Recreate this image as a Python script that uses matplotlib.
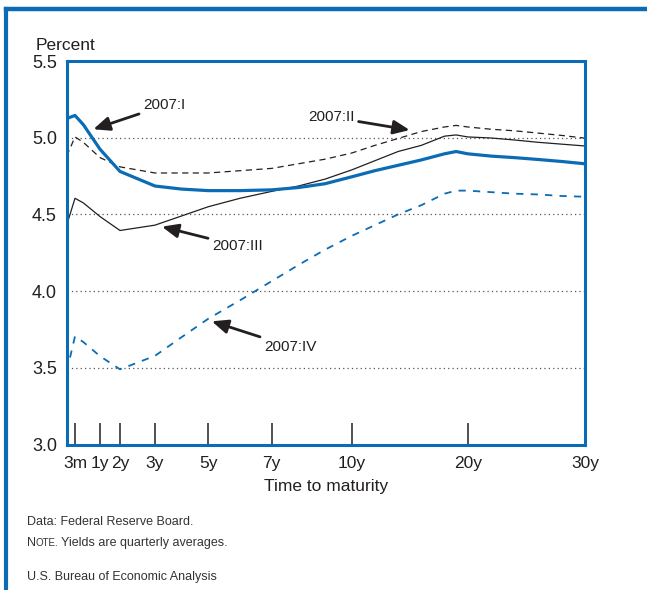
import numpy as np
import matplotlib
matplotlib.use("Agg")
import matplotlib.pyplot as plt
from matplotlib.lines import Line2D

plt.rcParams["font.family"] = ["Liberation Sans", "DejaVu Sans"]

# ── data (percent) ─────────────────────────────────────────
maturity = [1/12, 0.25, 0.5, 1, 2, 3, 4, 5, 6, 7, 8, 9, 10,
            12, 14, 16, 18, 19, 20, 22, 24, 26, 28, 30]

q1 = [5.125, 5.145, 5.085, 4.925, 4.78, 4.685, 4.665, 4.655, 4.655, 4.66, 4.675, 4.70, 4.745,
      4.785, 4.82, 4.855, 4.895, 4.91, 4.895, 4.88, 4.87, 4.858, 4.845, 4.83]
q2 = [4.88, 5.005, 4.97, 4.87, 4.81, 4.77, 4.77, 4.77, 4.785, 4.80, 4.83, 4.86, 4.90,
      4.95, 4.995, 5.04, 5.07, 5.08, 5.07, 5.055, 5.045, 5.03, 5.015, 4.997]
q3 = [4.43, 4.605, 4.575, 4.486, 4.395, 4.43, 4.49, 4.55, 4.605, 4.65, 4.685, 4.73, 4.79,
      4.85, 4.91, 4.95, 5.01, 5.018, 5.005, 4.998, 4.985, 4.97, 4.958, 4.946]
q4 = [3.475, 3.705, 3.668, 3.576, 3.49, 3.578, 3.70, 3.82, 3.94, 4.065, 4.17, 4.27, 4.36,
      4.43, 4.50, 4.56, 4.635, 4.655, 4.655, 4.645, 4.635, 4.63, 4.62, 4.615]

tick_mats = [0.25, 1, 2, 3, 5, 7, 10, 20, 30]
tick_labels = ["3m", "1y", "2y", "3y", "5y", "7y", "10y", "20y", "30y"]

# piecewise spacing of the printed maturity axis
knot_mats = [1/12, 0.25, 1, 2, 3, 5, 7, 10, 20, 30]
knot_pos = [66.7, 75, 100, 120, 155, 208.3, 271.7, 351.7, 467.7, 585]

BLUE = "#0b6cb5"
INK = "#231f20"
NOTE = "#333333"


def fwd(x):
    return np.interp(x, knot_mats, knot_pos)


def inv(x):
    return np.interp(x, knot_pos, knot_mats)


fig = plt.figure(figsize=(6.47, 5.90), dpi=100)
ax = fig.add_axes([66.7 / 647, 1 - 444.5 / 590, (585 - 66.7) / 647, (444.5 - 61) / 590])
ax.set_xscale("function", functions=(fwd, inv))
ax.set_xlim(1/12, 30)
ax.set_ylim(3.0, 5.5)

ax.plot(maturity, q4, color=BLUE, lw=1.3, dashes=(4, 4))
ax.plot(maturity, q3, color=INK, lw=0.9)
ax.plot(maturity, q2, color=INK, lw=0.9, dashes=(5, 3.5))
ax.plot(maturity, q1, color=BLUE, lw=2.3)

for v in [3.5, 4.0, 4.5, 5.0, 5.5]:
    ax.axhline(v, color="#555555", lw=0.9, ls=(0, (1, 2.5)), zorder=1)

for s in ax.spines.values():
    s.set_color(BLUE)
    s.set_linewidth(2.2)

ax.set_xticks(tick_mats)
ax.set_xticklabels(tick_labels)
ax.set_yticks([3.0, 3.5, 4.0, 4.5, 5.0, 5.5])
ax.set_yticklabels(["3.0", "3.5", "4.0", "4.5", "5.0", "5.5"])
ax.tick_params(axis="x", direction="in", length=16, width=1.1, color=INK,
               labelsize=12.5, labelcolor=INK, pad=8)
ax.tick_params(axis="y", length=0, labelsize=13, labelcolor=INK, pad=7)
ax.xaxis.get_major_ticks()[-1].tick1line.set_visible(False)
ax.set_xlabel("Time to maturity", fontsize=12.5, color=INK, labelpad=6)

# quarter labels with arrows
arrow = dict(arrowstyle="-|>,head_length=0.7,head_width=0.3", lw=2, color=INK,
             shrinkA=1, shrinkB=0, mutation_scale=14)
ax.annotate("2007:I", xy=(0.80, 5.055), xytext=(2.66, 5.21), fontsize=11,
            color=INK, ha="left", va="center", arrowprops=arrow)
ax.annotate("2007:II", xy=(15.0, 5.05), xytext=(8.36, 5.135), fontsize=11,
            color=INK, ha="left", va="center", arrowprops=arrow)
ax.annotate("2007:III", xy=(3.26, 4.42), xytext=(5.12, 4.296), fontsize=11,
            color=INK, ha="left", va="center", arrowprops=arrow)
ax.annotate("2007:IV", xy=(5.11, 3.803), xytext=(6.76, 3.638), fontsize=11,
            color=INK, ha="left", va="center", arrowprops=arrow)

fig.text(36 / 647, 1 - 45 / 590, "Percent", fontsize=12.5, color=INK, va="center")

# frame
fig.add_artist(Line2D([5.5 / 647, 1], [1 - 9 / 590, 1 - 9 / 590], color=BLUE, lw=3.2,
                      transform=fig.transFigure))
fig.add_artist(Line2D([5.5 / 647, 5.5 / 647], [0, 1 - 9 / 590], color=BLUE, lw=3,
                      transform=fig.transFigure))

# notes
fig.text(27 / 647, 1 - 522 / 590, "Data: Federal Reserve Board.", fontsize=9,
         color=NOTE, va="center")
n = fig.text(27 / 647, 1 - 546 / 590, "N", fontsize=9, color=NOTE, va="baseline")
o = fig.text(0, 0, "OTE.", fontsize=7, color=NOTE, va="baseline")
fig.canvas.draw()
r = fig.canvas.get_renderer()
bb = n.get_window_extent(r)
x0, y0 = n.get_position()
o.set_position((bb.x1 / fig.bbox.width, y0))
bb2 = o.get_window_extent(r)
fig.text(bb2.x1 / fig.bbox.width + 2 / 647, y0, "Yields are quarterly averages.",
         fontsize=9, color=NOTE, va="baseline")
fig.text(27 / 647, 1 - 577 / 590, "U.S. Bureau of Economic Analysis", fontsize=9,
         color=NOTE, va="center")

fig.savefig("out.png", dpi=100)
